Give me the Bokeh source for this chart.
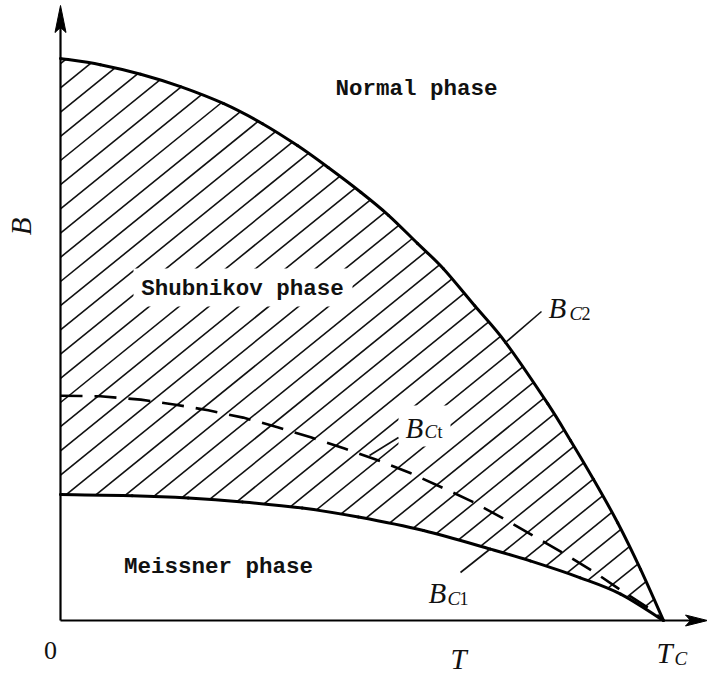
import numpy as np
from bokeh.plotting import figure
from bokeh.models import Range1d
from bokeh.core.properties import value
from bokeh.embed import file_html
from bokeh.resources import INLINE

# Phase boundaries of a type-II superconductor, T in units of Tc, B in units of Bc2(0)
T_c2 = [0.0, 0.066, 0.133, 0.199, 0.270, 0.335, 0.393, 0.444, 0.498, 0.544,
        0.592, 0.635, 0.687, 0.738, 0.808, 0.846, 0.884, 0.924, 0.962, 1.0]
B_c2 = [1.0, 0.989, 0.972, 0.950, 0.920, 0.884, 0.845, 0.806, 0.762, 0.721,
        0.671, 0.626, 0.560, 0.495, 0.386, 0.320, 0.251, 0.174, 0.091, 0.0]

T_c1 = [0.0, 0.119, 0.212, 0.302, 0.401, 0.494, 0.602, 0.713, 0.779, 0.862, 0.929, 1.0]
B_c1 = [0.224, 0.222, 0.218, 0.211, 0.200, 0.184, 0.160, 0.127, 0.106, 0.076, 0.047, 0.0]

T_ct = [0.0, 0.066, 0.133, 0.191, 0.245, 0.303, 0.360, 0.415, 0.471, 0.524,
        0.579, 0.630, 0.682, 0.735, 0.785, 0.835, 0.884, 0.932, 0.978, 1.0]
B_ct = [0.400, 0.399, 0.393, 0.384, 0.374, 0.361, 0.344, 0.326, 0.306, 0.286,
        0.263, 0.238, 0.212, 0.181, 0.150, 0.119, 0.087, 0.052, 0.020, 0.0]

phase_names = ["Normal phase", "Shubnikov phase", "Meissner phase"]

W, H = 707, 675
X0, Y0, SX, SY = 60.0, 620.0, 603.0, 562.0
TXT_SHIFT = 10.0   # alphabetic baseline correction for the svg text


def dx(px):
    return (px - X0) / SX


def dy(py):
    return (Y0 - py) / SY


p = figure(width=W, height=H, x_range=Range1d(dx(0), dx(W)), y_range=Range1d(dy(H), dy(0)),
           x_axis_type=None, y_axis_type=None, toolbar_location=None,
           output_backend="svg", min_border=0)
p.outline_line_color = None
p.grid.visible = False
p.background_fill_color = "white"
p.border_fill_color = "white"

# hatching of the mixed (Shubnikov) region
k = 0.81 * SX / SY
tt = np.linspace(0.0, 1.0, 8001)
lo = np.interp(tt, T_c1, B_c1)
hi = np.interp(tt, T_c2, B_c2)
hx, hy = [], []
for n in range(-16, 32):
    b0 = dy(402 + 24.2 * n)
    ln = b0 + k * tt
    idx = np.nonzero((ln >= lo) & (ln <= hi))[0]
    if len(idx) < 2:
        continue
    t0, t1 = tt[idx[0]], tt[idx[-1]]
    hx.append([t0, t1])
    hy.append([b0 + k * t0, b0 + k * t1])
p.multi_line(hx, hy, line_color="#111111", line_width=1.6)

# clear patches behind the labels inside the hatching
p.quad(left=[dx(133), dx(398)], right=[dx(352), dx(450)],
       top=[dy(268), dy(405)], bottom=[dy(306), dy(446)],
       fill_color="white", line_color=None)

# axes with arrow heads
p.line([dx(60), dx(60)], [dy(620), dy(24)], line_color="black", line_width=2.2)
p.line([dx(60), dx(692)], [dy(620), dy(620)], line_color="black", line_width=2.2)
p.patch([dx(60), dx(54.5), dx(60), dx(65.5)], [dy(5), dy(32), dy(27), dy(32)],
        fill_color="black", line_color="black", line_width=1)
p.patch([dx(707), dx(685), dx(690), dx(685)], [dy(620), dy(614.5), dy(620), dy(625.5)],
        fill_color="black", line_color="black", line_width=1)


def smooth_curve(xs, ys, **kw):
    """Draw a curve through the points as joined cubic Bezier pieces."""
    x = np.asarray(xs, float)
    y = np.asarray(ys, float)
    xe = np.concatenate([[x[0]], x, [x[-1]]])
    ye = np.concatenate([[y[0]], y, [y[-1]]])
    n = len(x) - 1
    x0, y0, x1, y1 = x[:-1], y[:-1], x[1:], y[1:]
    cx0 = x0 + (xe[2:n + 2] - xe[0:n]) / 6.0
    cy0 = y0 + (ye[2:n + 2] - ye[0:n]) / 6.0
    cx1 = x1 - (xe[3:n + 3] - xe[1:n + 1]) / 6.0
    cy1 = y1 - (ye[3:n + 3] - ye[1:n + 1]) / 6.0
    p.bezier(x0=x0, y0=y0, x1=x1, y1=y1, cx0=cx0, cy0=cy0, cx1=cx1, cy1=cy1,
             line_cap="round", **kw)


# boundaries
smooth_curve(T_c2, B_c2, line_color="black", line_width=3)
smooth_curve(T_c1, B_c1, line_color="black", line_width=3)
p.line(T_ct, B_ct, line_color="black", line_width=2.6, line_dash="22 12")

# leader lines to the curve labels
p.multi_line([[dx(541), dx(505)], [dx(398), dx(369)], [dx(460), dx(489)]],
             [[dy(311), dy(342)], [dy(437), dy(455)], [dy(572), dy(549)]],
             line_color="#111111", line_width=1.6)

# phase names
mono = value("Liberation Mono")
p.text([dx(416), dx(242), dx(218)], [dy(88), dy(288), dy(566)], text=phase_names,
       text_font=mono, text_font_style="bold", text_font_size="22.5px",
       text_align="center", text_baseline="middle", text_color="#111111")

serif = value("Liberation Serif")


def label(px, py, s, size, style="italic", align="left", baseline="alphabetic", angle=0.0):
    if baseline == "alphabetic":
        py = py - TXT_SHIFT
    p.text([dx(px)], [dy(py)], text=[s], text_font=serif, text_font_style=style,
           text_font_size=size, text_align=align, text_baseline=baseline,
           angle=angle, text_color="#111111")


# curve labels with subscripts
label(548, 317, "B", "29px")
label(569, 323, "C", "19px")
label(581, 323, "2", "18px", style="normal")

label(405, 437, "B", "29px")
label(424, 441, "C", "19px")
label(437, 441, "t", "18px", style="normal")

label(428, 602, "B", "29px")
label(447, 608, "C", "19px")
label(459, 608, "1", "18px", style="normal")

# axis labels
label(50, 660, "0", "26px", style="normal", align="center")
label(450, 668, "T", "29px")
label(656, 662, "T", "29px")
label(674, 668, "C", "19px")
label(20, 226, "B", "29px", align="center", baseline="middle", angle=np.pi / 2)

open("out.html", "w").write(file_html(p, INLINE))
